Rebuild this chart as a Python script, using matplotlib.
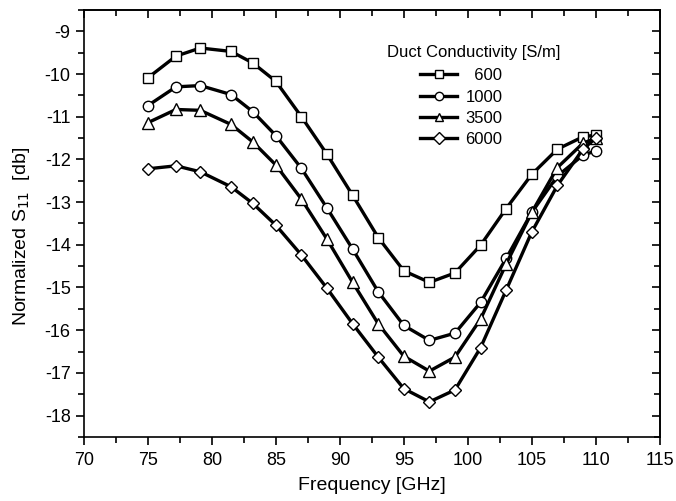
import matplotlib

matplotlib.use("Agg")
import matplotlib.pyplot as plt
from matplotlib.ticker import MultipleLocator

plt.rcParams["font.family"] = ["Liberation Sans", "DejaVu Sans"]
plt.rcParams["axes.unicode_minus"] = False

# frequency points [GHz] and normalized S11 [dB]
freq = [75, 77.2, 79.1, 81.5, 83.2, 85, 87, 89, 91, 93, 95, 97, 99, 101, 103, 105, 107, 109, 110]
s11_600 = [-10.09, -9.58, -9.39, -9.47, -9.74, -10.17, -11.0, -11.88, -12.84, -13.83,
           -14.61, -14.88, -14.66, -14.01, -13.15, -12.35, -11.76, -11.47, -11.43]
s11_1000 = [-10.74, -10.30, -10.27, -10.48, -10.88, -11.44, -12.21, -13.14, -14.10, -15.10,
            -15.89, -16.24, -16.07, -15.35, -14.32, -13.24, -12.39, -11.90, -11.80]
s11_3500 = [-11.14, -10.83, -10.85, -11.18, -11.59, -12.13, -12.93, -13.87, -14.88, -15.85,
            -16.61, -16.96, -16.63, -15.74, -14.45, -13.24, -12.19, -11.62, -11.50]
s11_6000 = [-12.22, -12.15, -12.29, -12.64, -13.03, -13.54, -14.24, -15.02, -15.85, -16.63,
            -17.37, -17.68, -17.40, -16.41, -15.06, -13.70, -12.61, -11.76, -11.50]

labels = ["  600", "1000", "3500", "6000"]
series = [s11_600, s11_1000, s11_3500, s11_6000]
markers = ["s", "o", "^", "D"]
msizes = [7, 7.5, 8.5, 6.5]

fig = plt.figure(figsize=(6.76, 5.01), dpi=100)
ax = fig.add_axes([0.124, 0.128, 0.852, 0.852])

for ys, lab, m, ms in zip(series, labels, markers, msizes):
    ax.plot(freq, ys, color="black", lw=2.4, marker=m, ms=ms,
            mfc="white", mec="black", mew=1.0, label=lab)

ax.set_xlim(70, 115)
ax.set_ylim(-18.5, -8.5)
ax.xaxis.set_major_locator(MultipleLocator(5))
ax.xaxis.set_minor_locator(MultipleLocator(2.5))
ax.yaxis.set_major_locator(MultipleLocator(1))
ax.yaxis.set_minor_locator(MultipleLocator(0.5))
ax.tick_params(which="major", direction="out", length=6, width=1.2, labelsize=13)
ax.tick_params(axis="x", which="major", pad=5)
ax.tick_params(which="minor", direction="out", length=4, width=1.2)

# mirrored ticks on top and right, pointing inward
top = ax.secondary_xaxis("top")
top.xaxis.set_major_locator(MultipleLocator(5))
top.xaxis.set_minor_locator(MultipleLocator(2.5))
top.tick_params(which="major", direction="in", length=6, width=1.2, labeltop=False)
top.tick_params(which="minor", direction="in", length=4, width=1.2)
right = ax.secondary_yaxis("right")
right.yaxis.set_major_locator(MultipleLocator(1))
right.yaxis.set_minor_locator(MultipleLocator(0.5))
right.tick_params(which="major", direction="in", length=6, width=1.2, labelright=False)
right.tick_params(which="minor", direction="in", length=4, width=1.2)

for sp in list(ax.spines.values()) + [top.spines["top"], right.spines["right"]]:
    sp.set_linewidth(1.2)

ax.set_xlabel("Frequency [GHz]", fontsize=14)
ax.xaxis.set_label_coords(0.5, -0.093)
ax.set_ylabel("Normalized S$_{11}$  [db]", fontsize=14)
ax.yaxis.set_label_coords(-0.09, 0.47)

# legend: title as free text, entries indented below it
fig.text(387 / 676, 1 - 53 / 501, "Duct Conductivity [S/m]", fontsize=12, va="center")
leg = ax.legend(loc="upper left", bbox_to_anchor=(412 / 676, 1 - 60 / 501),
                bbox_transform=fig.transFigure, frameon=False, fontsize=12,
                handlelength=2.2, labelspacing=0.38, handletextpad=0.5, borderpad=0)
for h in leg.legend_handles:
    h.set_markersize(6)

fig.savefig("out.png", dpi=100)
